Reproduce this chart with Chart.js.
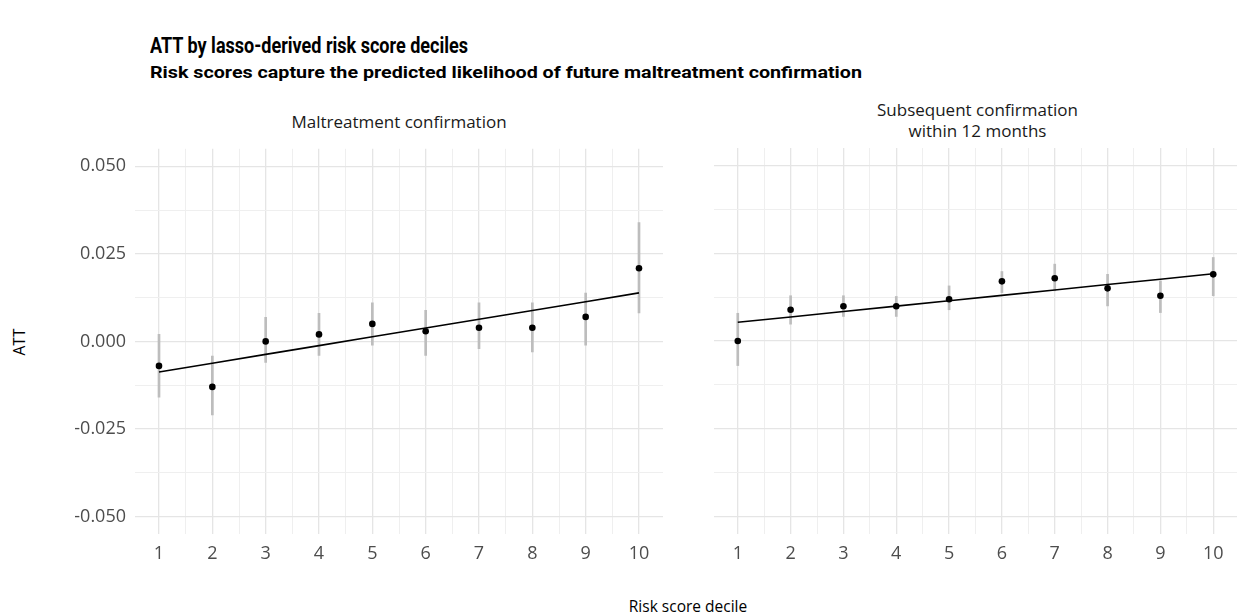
<!DOCTYPE html>
<html>
<head>
<meta charset="utf-8">
<script src="https://cdn.jsdelivr.net/npm/chart.js@4.4.0/dist/chart.umd.min.js"></script>
<style>
  html, body { margin: 0; padding: 0; background: #ffffff; }
  #wrap { position: relative; width: 1241px; height: 616px; overflow: hidden; font-family: "Open Sans", sans-serif; }
  .txt { position: absolute; white-space: nowrap; line-height: 1; }
  #title { left: 150px; top: 35px; font-size: 22px; font-weight: 700; color: #000; transform-origin: 0 50%; font-family: "Roboto", sans-serif; }
  #subtitle { left: 150px; top: 64px; font-size: 17px; font-weight: 700; color: #000; transform-origin: 0 50%; font-family: "Roboto", sans-serif; }
  .strip { position: absolute; text-align: center; font-size: 17px; color: #1a1a1a; line-height: 21px; }
  #strip1 { left: 135px; width: 528px; top: 111px; }
  #strip2 { left: 714px; width: 527px; top: 99px; }
  #xtitle { left: 135px; width: 1106px; top: 599px; text-align: center; font-size: 15.5px; color: #000; }
  #ytitle { left: 20px; top: 342px; font-size: 15.5px; color: #000; transform: translate(-50%, -50%) rotate(-90deg); }
  canvas { position: absolute; }
  #cLeft { left: 0px; top: 129px; }
  #cRight { left: 680px; top: 138px; }
</style>
</head>
<body>
<div id="wrap">
  <div id="title" class="txt">ATT by lasso-derived risk score deciles</div>
  <div id="subtitle" class="txt">Risk scores capture the predicted likelihood of future maltreatment confirmation</div>
  <div id="strip1" class="strip">Maltreatment confirmation</div>
  <div id="strip2" class="strip">Subsequent confirmation<br>within 12 months</div>
  <div id="xtitle" class="txt">Risk score decile</div>
  <div id="ytitle" class="txt">ATT</div>
  <canvas id="cLeft" width="680" height="487"></canvas>
  <canvas id="cRight" width="561" height="478"></canvas>
</div>
<script>
// Risk score deciles on the x axis
const deciles = [1, 2, 3, 4, 5, 6, 7, 8, 9, 10];

// Maltreatment confirmation: ATT estimate with 95% interval
const attMaltreatment = [-0.007, -0.013, 0.000, 0.002, 0.005, 0.0029, 0.0039, 0.0039, 0.007, 0.0209];
const lowMaltreatment = [-0.0159, -0.021, -0.006, -0.004, -0.0011, -0.004, -0.0021, -0.003, -0.0011, 0.0081];
const highMaltreatment = [0.002, -0.0042, 0.0069, 0.008, 0.011, 0.0089, 0.011, 0.011, 0.0138, 0.0339];

// Subsequent confirmation within 12 months
const attSubsequent = [0.000, 0.0089, 0.0099, 0.0099, 0.0119, 0.017, 0.0179, 0.015, 0.0129, 0.019];
const lowSubsequent = [-0.007, 0.0048, 0.007, 0.007, 0.0089, 0.0138, 0.0143, 0.010, 0.0081, 0.0129];
const highSubsequent = [0.0079, 0.0129, 0.0129, 0.0127, 0.0157, 0.0198, 0.0219, 0.019, 0.0171, 0.0238];

// Axis breaks
const xTickValues = [1, 2, 3, 4, 5, 6, 7, 8, 9, 10];
const yTickValues = [-0.05, -0.025, 0, 0.025, 0.05];
const yTickLabels = ['-0.050', '-0.025', '0.000', '0.025', '0.050'];

// Squeeze the bold heading lines into a condensed look
function condense(id, targetWidth) {
  const el = document.getElementById(id);
  const w = el.getBoundingClientRect().width;
  el.style.transform = 'scaleX(' + (targetWidth / w) + ')';
}
condense('title', 318);
condense('subtitle', 712);

// Least-squares line through the point estimates
function linearFit(xs, ys) {
  const n = xs.length;
  const mx = xs.reduce((a, b) => a + b, 0) / n;
  const my = ys.reduce((a, b) => a + b, 0) / n;
  let sxy = 0, sxx = 0;
  for (let i = 0; i < n; i++) { sxy += (xs[i] - mx) * (ys[i] - my); sxx += (xs[i] - mx) ** 2; }
  const slope = sxy / sxx;
  return xs.map(x => ({ x: x, y: my + slope * (x - mx) }));
}

// Major breaks plus the half-way minor breaks between them
function withMinors(values) {
  const out = [];
  for (let i = 0; i < values.length; i++) {
    out.push({ value: values[i], major: true });
    if (i < values.length - 1) out.push({ value: (values[i] + values[i + 1]) / 2, major: false });
  }
  return out;
}

const gridColor = ctx => (ctx.tick && ctx.tick.major) ? '#e5e5e5' : '#efefef';
const gridWidth = ctx => (ctx.tick && ctx.tick.major) ? 1.3 : 1;

Chart.defaults.font.family = '"Open Sans", sans-serif';
Chart.defaults.animation = false;

function makePanel(canvasId, att, low, high, showYLabels, yAxisWidth, padTop, padRight) {
  return new Chart(document.getElementById(canvasId), {
    type: 'bar',
    data: {
      datasets: [
        {
          type: 'bar',
          data: deciles.map((d, i) => ({ x: d, y: [low[i], high[i]] })),
          backgroundColor: '#bdbdbd',
          barThickness: 2,
          grouped: false,
          order: 3
        },
        {
          type: 'line',
          data: linearFit(deciles, att),
          borderColor: '#000000',
          borderWidth: 1.6,
          pointRadius: 0,
          fill: false,
          order: 2
        },
        {
          type: 'scatter',
          data: deciles.map((d, i) => ({ x: d, y: att[i] })),
          backgroundColor: '#000000',
          borderColor: '#000000',
          pointRadius: 3.3,
          borderWidth: 0,
          order: 1
        }
      ]
    },
    options: {
      responsive: false,
      animation: false,
      layout: { padding: { top: padTop, right: padRight, bottom: 0, left: 0 } },
      plugins: { legend: { display: false }, tooltip: { enabled: false }, title: { display: false } },
      scales: {
        x: {
          type: 'linear',
          min: 0.55,
          max: 10.45,
          offset: false,
          afterBuildTicks: axis => { axis.ticks = withMinors(xTickValues); },
          afterFit: axis => { axis.height = 82; },
          grid: { offset: false, color: gridColor, lineWidth: gridWidth, drawTicks: false },
          border: { display: false },
          ticks: {
            autoSkip: false,
            maxRotation: 0,
            padding: 9,
            color: '#4d4d4d',
            font: { size: 18 },
            callback: function (value) { return xTickValues.includes(value) ? String(value) : ''; }
          }
        },
        y: {
          type: 'linear',
          min: -0.055,
          max: 0.055,
          afterBuildTicks: axis => { axis.ticks = withMinors(yTickValues); },
          afterFit: axis => { axis.width = yAxisWidth; },
          grid: { color: gridColor, lineWidth: gridWidth, drawTicks: false },
          border: { display: false },
          ticks: {
            display: showYLabels,
            autoSkip: false,
            padding: 9,
            color: '#4d4d4d',
            font: { size: 18 },
            callback: function (value) {
              const i = yTickValues.indexOf(value);
              return i >= 0 ? yTickLabels[i] : '';
            }
          }
        }
      }
    }
  });
}

makePanel('cLeft', attMaltreatment, lowMaltreatment, highMaltreatment, true, 135, 0, 17);
makePanel('cRight', attSubsequent, lowSubsequent, highSubsequent, false, 34, 10, 0);
</script>
</body>
</html>
